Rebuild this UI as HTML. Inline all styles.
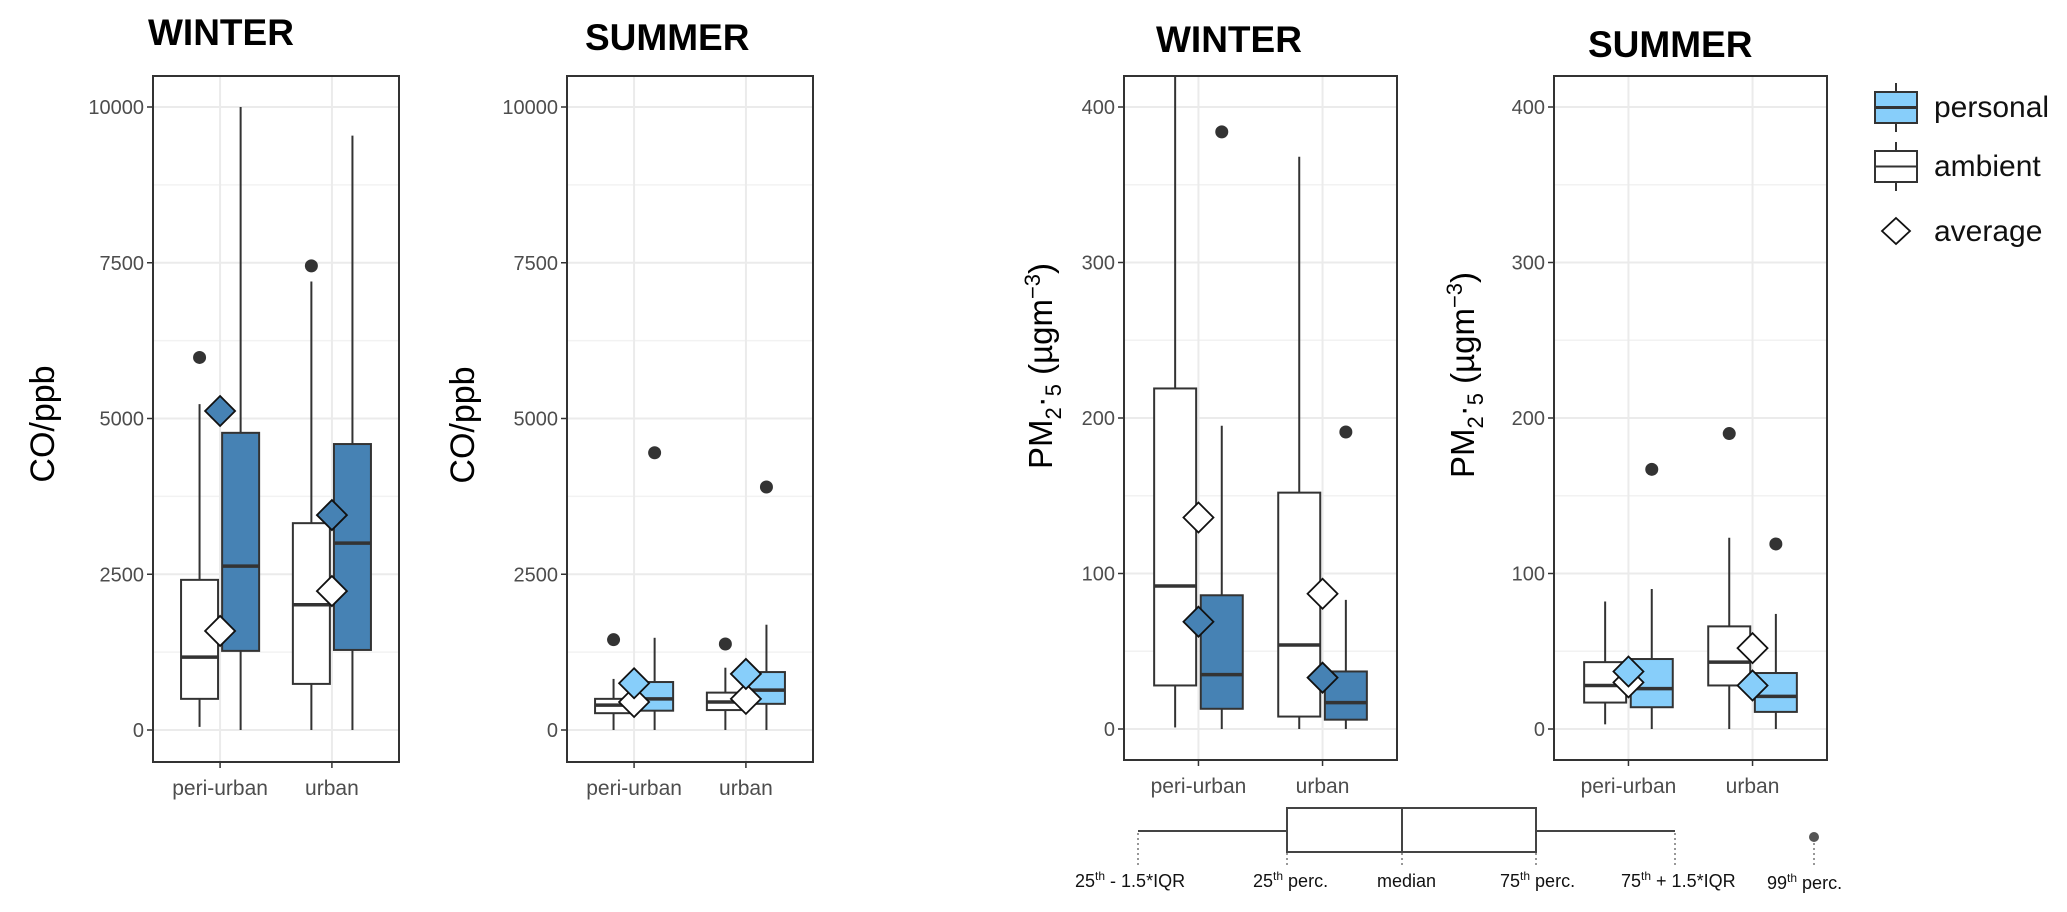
<!DOCTYPE html>
<html><head><meta charset="utf-8"><style>
html,body{margin:0;padding:0;background:#fff;}
svg{display:block;font-family:"Liberation Sans",sans-serif;}
</style></head><body>
<svg id="chart" width="2067" height="912" viewBox="0 0 2067 912" xmlns="http://www.w3.org/2000/svg">
<defs>
<clipPath id="clipCoW"><rect x="153" y="76" width="246" height="686"/></clipPath>
<clipPath id="clipCoS"><rect x="567" y="76" width="246" height="686"/></clipPath>
<clipPath id="clipPmW"><rect x="1124" y="76" width="273" height="684"/></clipPath>
<clipPath id="clipPmS"><rect x="1554" y="76" width="273" height="684"/></clipPath>
</defs>
<g id="panels"></g>
<g>
  <line x1="1896" y1="83" x2="1896" y2="132" stroke="#333" stroke-width="2"/>
  <rect x="1875" y="92" width="42" height="31" fill="#87cefa" stroke="#333" stroke-width="2"/>
  <line x1="1875" y1="107.5" x2="1917" y2="107.5" stroke="#333" stroke-width="3"/>
  <text x="1934" y="117" font-size="30" fill="#111">personal</text>
  <line x1="1896" y1="142" x2="1896" y2="191" stroke="#333" stroke-width="2"/>
  <rect x="1875" y="151" width="42" height="31" fill="#fff" stroke="#333" stroke-width="2"/>
  <line x1="1875" y1="166.5" x2="1917" y2="166.5" stroke="#333" stroke-width="2"/>
  <text x="1934" y="176" font-size="30" fill="#111">ambient</text>
  <polygon points="1896,218 1910,231 1896,244 1882,231" fill="#fff" stroke="#111" stroke-width="1.8"/>
  <text x="1934" y="241" font-size="30" fill="#111">average</text>
</g>
<g font-size="18" fill="#111">
  <line x1="1138" y1="831" x2="1287" y2="831" stroke="#444" stroke-width="2"/>
  <line x1="1536" y1="831" x2="1675" y2="831" stroke="#444" stroke-width="2"/>
  <rect x="1287" y="808" width="249" height="44" fill="#fff" stroke="#444" stroke-width="2"/>
  <line x1="1402" y1="808" x2="1402" y2="852" stroke="#444" stroke-width="2"/>
  <circle cx="1814" cy="837" r="5" fill="#555"/>
  <g stroke="#777" stroke-width="1.5" stroke-dasharray="2,3">
    <line x1="1138" y1="833" x2="1138" y2="868"/><line x1="1287" y1="853" x2="1287" y2="868"/>
    <line x1="1402" y1="853" x2="1402" y2="868"/><line x1="1536" y1="853" x2="1536" y2="868"/>
    <line x1="1675" y1="833" x2="1675" y2="868"/><line x1="1814" y1="843" x2="1814" y2="868"/>
  </g>
  <text x="1075" y="887">25<tspan font-size="12" dy="-7">th</tspan><tspan dy="7"> - 1.5*IQR</tspan></text>
  <text x="1253" y="887">25<tspan font-size="12" dy="-7">th</tspan><tspan dy="7"> perc.</tspan></text>
  <text x="1377" y="887">median</text>
  <text x="1500" y="887">75<tspan font-size="12" dy="-7">th</tspan><tspan dy="7"> perc.</tspan></text>
  <text x="1621" y="887">75<tspan font-size="12" dy="-7">th</tspan><tspan dy="7"> + 1.5*IQR</tspan></text>
  <text x="1767" y="889">99<tspan font-size="12" dy="-7">th</tspan><tspan dy="7"> perc.</tspan></text>
</g>
</svg>
<script>
// order in each array: [peri-urban ambient, peri-urban personal, urban ambient, urban personal]
const categories = ["peri-urban", "urban"];
const groups = ["ambient", "personal"];
const coTicks = [0, 2500, 5000, 7500, 10000];
const coTickLabels = ["0", "2500", "5000", "7500", "10000"];
const pmTicks = [0, 100, 200, 300, 400];
const pmTickLabels = ["0", "100", "200", "300", "400"];

const coWinterLow = [50, 0, 0, 0];
const coWinterQ1 = [500, 1270, 740, 1285];
const coWinterMed = [1170, 2630, 2010, 3000];
const coWinterQ3 = [2410, 4770, 3320, 4590];
const coWinterHigh = [5230, 10000, 7200, 9540];
const coWinterMean = [1590, 5120, 2230, 3450];
const coWinterOut = [5980, null, 7450, null];

const coSummerLow = [0, 0, 0, 0];
const coSummerQ1 = [270, 310, 320, 420];
const coSummerMed = [400, 500, 450, 640];
const coSummerQ3 = [500, 770, 600, 930];
const coSummerHigh = [820, 1480, 1000, 1690];
const coSummerMean = [450, 750, 500, 900];
const coSummerOut = [1450, 4450, 1380, 3900];

const pmWinterLow = [1, 0, 0, 0];
const pmWinterQ1 = [28, 13, 8, 6];
const pmWinterMed = [92, 35, 54, 17];
const pmWinterQ3 = [219, 86, 152, 37];
const pmWinterHigh = [460, 195, 368, 83];
const pmWinterMean = [136, 69, 87, 33];
const pmWinterOut = [null, 384, null, 191];

const pmSummerLow = [3, 0, 0, 0];
const pmSummerQ1 = [17, 14, 28, 11];
const pmSummerMed = [28, 26, 43, 21];
const pmSummerQ3 = [43, 45, 66, 36];
const pmSummerHigh = [82, 90, 123, 74];
const pmSummerMean = [30, 37, 52, 28];
const pmSummerOut = [null, 167, 190, 119];

const NS = "http://www.w3.org/2000/svg";
const root = document.getElementById("panels");
function mk(tag, attrs, parent) {
  const e = document.createElementNS(NS, tag);
  for (const k in attrs) e.setAttribute(k, attrs[k]);
  parent.appendChild(e);
  return e;
}

function panel(cfg) {
  const g = mk("g", {}, root);
  
  
  const {x0, x1, top, bottom, y0px, ymaxPx, ymax} = cfg;
  const y = v => y0px - v * (y0px - ymaxPx) / ymax;
  const w = x1 - x0;
  const unit = w / 2.2;
  const cx = i => x0 + unit * (0.6 + i);
  const dodge = cfg.bw * 0.555;
  const step = cfg.ticks[1] - cfg.ticks[0];
  for (let i = 0; i < cfg.ticks.length; i++) {
    const mv = cfg.ticks[i] + step / 2;
    if (y(mv) > top) mk("line", {x1: x0, x2: x1, y1: y(mv), y2: y(mv), stroke: "#f2f2f2", "stroke-width": 1.5}, g);
  }
  cfg.ticks.forEach((t, i) => {
    const ln = mk("line", {x1: x0, x2: x1, y1: y(t), y2: y(t), stroke: "#ebebeb", "stroke-width": 2}, g);
    
    
    mk("line", {x1: x0 - 6, x2: x0, y1: y(t), y2: y(t), stroke: "#333", "stroke-width": 1.5}, g);
    const tx = mk("text", {x: x0 - 9, y: y(t) + 7, "text-anchor": "end", "font-size": 20, fill: "#4d4d4d"}, g);
    tx.textContent = cfg.tickLabels[i];
    
    
  });
  categories.forEach((c, i) => {
    mk("line", {x1: cx(i), x2: cx(i), y1: top, y2: bottom, stroke: "#ebebeb", "stroke-width": 2}, g);
    mk("line", {x1: cx(i), x2: cx(i), y1: bottom, y2: bottom + 6, stroke: "#333", "stroke-width": 1.5}, g);
    const tx = mk("text", {x: cx(i), y: bottom + 33, "text-anchor": "middle", "font-size": 21, fill: "#4d4d4d"}, g);
    tx.textContent = c;
    
    
  });
  const plot = mk("g", {"clip-path": "url(#" + cfg.clip + ")"}, g);
  const fillP = cfg.personalFill;
  for (let k = 0; k < 4; k++) {
    const ci = Math.floor(k / 2), gi = k % 2;
    const bx = cx(ci) + (gi === 0 ? -dodge : dodge);
    const fill = gi === 0 ? "#ffffff" : fillP;
    const bg = mk("g", {}, plot);
    
    
    mk("line", {x1: bx, x2: bx, y1: y(cfg.high[k]), y2: y(cfg.q3[k]), stroke: "#333", "stroke-width": 2}, bg);
    mk("line", {x1: bx, x2: bx, y1: y(cfg.q1[k]), y2: y(cfg.low[k]), stroke: "#333", "stroke-width": 2}, bg);
    mk("rect", {x: bx - cfg.bw / 2, y: y(cfg.q3[k]), width: cfg.bw, height: y(cfg.q1[k]) - y(cfg.q3[k]), fill: fill, stroke: "#333", "stroke-width": 2}, bg);
    mk("line", {x1: bx - cfg.bw / 2, x2: bx + cfg.bw / 2, y1: y(cfg.med[k]), y2: y(cfg.med[k]), stroke: "#333", "stroke-width": 3.5}, bg);
    if (cfg.out[k] !== null) {
      const o = mk("circle", {cx: bx, cy: y(cfg.out[k]), r: 6.5, fill: "#333"}, bg);
      
      
    }
  }
  for (let k = 0; k < 4; k++) {
    const ci = Math.floor(k / 2), gi = k % 2;
    const mx = cx(ci), my = y(cfg.mean[k]), s = 15;
    const d = mk("polygon", {points: `${mx},${my - s} ${mx + s},${my} ${mx},${my + s} ${mx - s},${my}`, fill: gi === 0 ? "#fff" : fillP, stroke: "#111", "stroke-width": 1.8}, plot);
    
    
  }
  const br = mk("rect", {x: x0, y: top, width: w, height: bottom - top, fill: "none", stroke: "#333", "stroke-width": 2}, g);
  
  
  const tt = mk("text", {x: cfg.titleX, y: cfg.titleY, "font-size": 37, "font-weight": "bold", fill: "#000"}, g);
  tt.textContent = cfg.title;
  
  
  const yl = mk("text", {transform: `translate(${cfg.ylabX},${cfg.ylabY}) rotate(-90)`, "text-anchor": "middle", "font-size": cfg.pm ? 33 : 34, fill: "#000"}, g);
  
  
  if (cfg.pm) {
    yl.innerHTML = 'PM<tspan font-size="22" dy="9">2</tspan><tspan dy="-9">·</tspan><tspan font-size="22" dy="9">5</tspan><tspan dy="-9"> (µgm</tspan><tspan font-size="22" dy="-12">−3</tspan><tspan dy="12">)</tspan>';
  } else {
    yl.textContent = "CO/ppb";
  }
}

panel({name: "co-winter-panel", x0: 153, x1: 399, top: 76, bottom: 762, y0px: 730, ymaxPx: 107, ymax: 10000, bw: 37,
  ticks: coTicks, tickLabels: coTickLabels, clip: "clipCoW", personalFill: "#4682b4",
  low: coWinterLow, q1: coWinterQ1, med: coWinterMed, q3: coWinterQ3, high: coWinterHigh, mean: coWinterMean, out: coWinterOut,
  title: "WINTER", titleX: 148, titleY: 45, ylabX: 54, ylabY: 424});
panel({name: "co-summer-panel", x0: 567, x1: 813, top: 76, bottom: 762, y0px: 730, ymaxPx: 107, ymax: 10000, bw: 37,
  ticks: coTicks, tickLabels: coTickLabels, clip: "clipCoS", personalFill: "#87cefa",
  low: coSummerLow, q1: coSummerQ1, med: coSummerMed, q3: coSummerQ3, high: coSummerHigh, mean: coSummerMean, out: coSummerOut,
  title: "SUMMER", titleX: 585, titleY: 50, ylabX: 474, ylabY: 425});
panel({name: "pm-winter-panel", x0: 1124, x1: 1397, top: 76, bottom: 760, y0px: 729, ymaxPx: 107, ymax: 400, bw: 42, pm: true,
  ticks: pmTicks, tickLabels: pmTickLabels, clip: "clipPmW", personalFill: "#4682b4",
  low: pmWinterLow, q1: pmWinterQ1, med: pmWinterMed, q3: pmWinterQ3, high: pmWinterHigh, mean: pmWinterMean, out: pmWinterOut,
  title: "WINTER", titleX: 1156, titleY: 52, ylabX: 1052, ylabY: 366});
panel({name: "pm-summer-panel", x0: 1554, x1: 1827, top: 76, bottom: 760, y0px: 729, ymaxPx: 107, ymax: 400, bw: 42, pm: true,
  ticks: pmTicks, tickLabels: pmTickLabels, clip: "clipPmS", personalFill: "#87cefa",
  low: pmSummerLow, q1: pmSummerQ1, med: pmSummerMed, q3: pmSummerQ3, high: pmSummerHigh, mean: pmSummerMean, out: pmSummerOut,
  title: "SUMMER", titleX: 1588, titleY: 57, ylabX: 1474, ylabY: 375});
</script>
</body></html>
